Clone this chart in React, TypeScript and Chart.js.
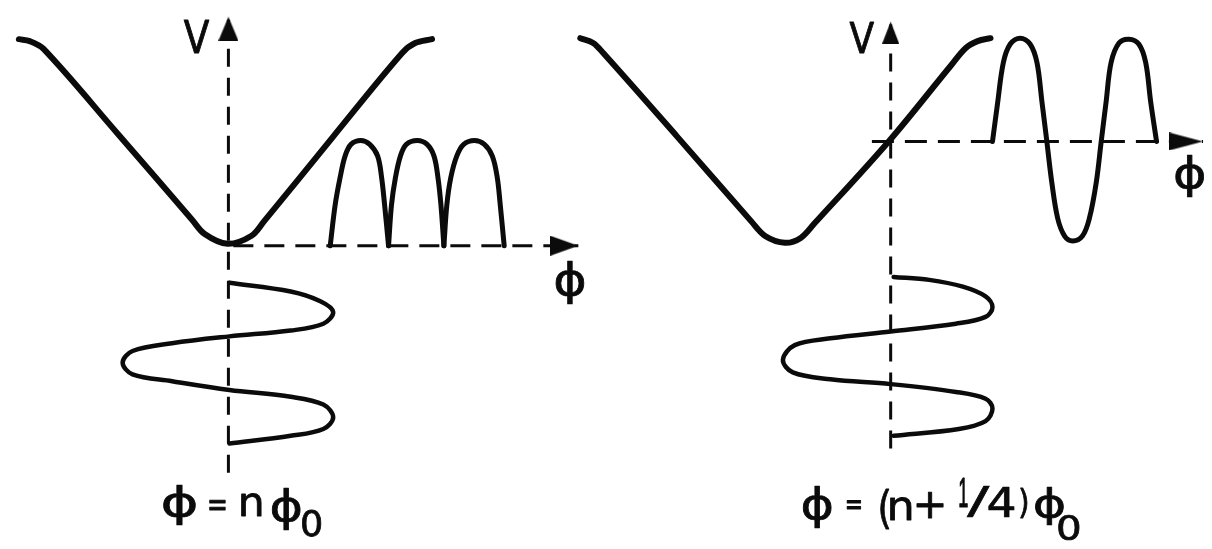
import { useEffect, useRef } from "react";
import { Chart, registerables } from "chart.js";

Chart.register(...registerables);

type Pt = { x: number; y: number };
// glyph with its centre (x, y) and the box (w, h) it is lettered into
type Glyph = { text: string; x: number; y: number; w: number; h: number; face?: string };

const W = 1212;
const H = 549;
const INK = "#0b0b0b";

// ---- Left panel: flux held at an integer number of flux quanta ----

// V–Φ characteristic
const leftVCurve: Pt[] = [
  { x: 12, y: 33 }, { x: 23, y: 35 }, { x: 37, y: 43 }, { x: 112, y: 130 },
  { x: 187, y: 218 }, { x: 200, y: 233 }, { x: 223, y: 243 }, { x: 247, y: 235 },
  { x: 260, y: 220 }, { x: 330, y: 133 }, { x: 400, y: 47 }, { x: 413, y: 37 },
  { x: 430, y: 33 },
];

// rectified output: three arches resting on the Φ axis
const leftArch1: Pt[] = [
  { x: 327, y: 245 }, { x: 332, y: 203 }, { x: 337, y: 175 }, { x: 342, y: 153 },
  { x: 348, y: 141 }, { x: 358, y: 137 }, { x: 367, y: 141 }, { x: 375, y: 153 },
  { x: 379, y: 175 }, { x: 382, y: 203 }, { x: 386, y: 245 },
];
const leftArch2: Pt[] = [
  { x: 386, y: 245 }, { x: 389, y: 203 }, { x: 393, y: 175 }, { x: 398, y: 153 },
  { x: 404, y: 141 }, { x: 415, y: 137 }, { x: 425, y: 141 }, { x: 432, y: 153 },
  { x: 436, y: 175 }, { x: 439, y: 203 }, { x: 442, y: 245 },
];
const leftArch3: Pt[] = [
  { x: 442, y: 245 }, { x: 445, y: 203 }, { x: 449, y: 175 }, { x: 455, y: 153 },
  { x: 462, y: 141 }, { x: 473, y: 137 }, { x: 483, y: 141 }, { x: 491, y: 153 },
  { x: 496, y: 175 }, { x: 499, y: 203 }, { x: 503, y: 245 },
];

// applied flux modulation, drawn downwards along the V axis
const leftFluxWave: Pt[] = [
  { x: 225, y: 283 }, { x: 287, y: 292 }, { x: 317, y: 302 }, { x: 330, y: 313 },
  { x: 320, y: 325 }, { x: 287, y: 332 }, { x: 225, y: 338 }, { x: 167, y: 345 },
  { x: 127, y: 353 }, { x: 117, y: 365 }, { x: 127, y: 377 }, { x: 167, y: 384 },
  { x: 225, y: 393 }, { x: 287, y: 400 }, { x: 320, y: 408 }, { x: 330, y: 421 },
  { x: 320, y: 433 }, { x: 287, y: 440 }, { x: 225, y: 448 },
];

// axes: start point, arrow tip
const leftVAxis: Pt[] = [{ x: 224, y: 478 }, { x: 224, y: 10 }];
const leftPhiAxis: Pt[] = [{ x: 229, y: 245 }, { x: 578, y: 245 }];

// ---- Right panel: flux offset by a quarter quantum ----

const rightVCurve: Pt[] = [
  { x: 580, y: 32 }, { x: 593, y: 37 }, { x: 603, y: 47 }, { x: 678, y: 133 },
  { x: 753, y: 220 }, { x: 767, y: 235 }, { x: 787, y: 242 }, { x: 803, y: 237 },
  { x: 817, y: 222 }, { x: 892, y: 138 }, { x: 955, y: 60 }, { x: 970, y: 42 },
  { x: 982, y: 35 }, { x: 995, y: 32 },
];

// output at the modulation frequency
const rightOutput: Pt[] = [
  { x: 997, y: 138 }, { x: 1002, y: 100 }, { x: 1008, y: 57 }, { x: 1015, y: 38 },
  { x: 1025, y: 32 }, { x: 1035, y: 38 }, { x: 1042, y: 57 }, { x: 1047, y: 97 },
  { x: 1052, y: 138 }, { x: 1057, y: 180 }, { x: 1063, y: 217 }, { x: 1070, y: 235 },
  { x: 1078, y: 240 }, { x: 1088, y: 235 }, { x: 1095, y: 217 }, { x: 1102, y: 180 },
  { x: 1107, y: 138 }, { x: 1112, y: 97 }, { x: 1117, y: 57 }, { x: 1125, y: 37 },
  { x: 1135, y: 33 }, { x: 1145, y: 38 }, { x: 1152, y: 57 }, { x: 1157, y: 97 },
  { x: 1163, y: 138 },
];

const rightFluxWave: Pt[] = [
  { x: 897, y: 277 }, { x: 933, y: 280 }, { x: 967, y: 287 }, { x: 990, y: 297 },
  { x: 997, y: 308 }, { x: 990, y: 318 }, { x: 960, y: 325 }, { x: 894, y: 333 },
  { x: 833, y: 340 }, { x: 797, y: 347 }, { x: 785, y: 362 }, { x: 795, y: 375 },
  { x: 833, y: 382 }, { x: 894, y: 387 }, { x: 960, y: 395 }, { x: 990, y: 402 },
  { x: 997, y: 412 }, { x: 990, y: 425 }, { x: 963, y: 433 }, { x: 897, y: 440 },
];

const rightVAxis: Pt[] = [{ x: 894, y: 453 }, { x: 894, y: 15 }];
const rightPhiAxis: Pt[] = [{ x: 875, y: 138 }, { x: 1210, y: 138 }];

// ---- Lettering ----

const axisLabels: Glyph[] = [
  { text: "V", x: 192, y: 30, w: 27, h: 34 },
  { text: "ϕ", x: 570, y: 283, w: 30, h: 45 },
  { text: "V", x: 865, y: 31, w: 26, h: 33 },
  { text: "ϕ", x: 1197, y: 174, w: 30, h: 43 },
];

// ϕ = nϕ₀
const leftCaption: Glyph[] = [
  { text: "ϕ", x: 175, y: 511, w: 34, h: 42 },
  { text: "=", x: 213, y: 511, w: 17, h: 11 },
  { text: "n", x: 247, y: 510, w: 21, h: 24 },
  { text: "ϕ", x: 283, y: 515, w: 30, h: 44 },
  { text: "0", x: 308, y: 529, w: 20, h: 29 },
];

// ϕ = (n+1/4)ϕ₀
const rightCaption: Glyph[] = [
  { text: "ϕ", x: 820, y: 513, w: 30, h: 43 },
  { text: "=", x: 857, y: 510, w: 15, h: 10 },
  { text: "(", x: 888, y: 515, w: 10, h: 42 },
  { text: "n", x: 904, y: 515, w: 22, h: 24 },
  { text: "+", x: 934, y: 511, w: 28, h: 27 },
  { text: "1", x: 968, y: 498, w: 9, h: 31, face: "Liberation Sans" },
  { text: "/", x: 983, y: 507, w: 24, h: 33 },
  { text: "4", x: 1006, y: 508, w: 28, h: 31 },
  { text: ")", x: 1029, y: 509, w: 8, h: 32 },
  { text: "ϕ", x: 1055, y: 512, w: 30, h: 40 },
  { text: "0", x: 1074, y: 534, w: 22, h: 28 },
];

const allGlyphs: Glyph[] = [...axisLabels, ...leftCaption, ...rightCaption];

// Arrowhead marker: tip sits at the canvas centre, body trails downward.
function makeArrow(length: number, width: number): HTMLCanvasElement {
  const c = document.createElement("canvas");
  c.width = width;
  c.height = length * 2;
  const g = c.getContext("2d")!;
  g.fillStyle = INK;
  g.beginPath();
  g.moveTo(width / 2, length);
  g.lineTo(width, length * 2);
  g.lineTo(0, length * 2);
  g.closePath();
  g.fill();
  return c;
}

const PEN = 0.8; // extra stroke round each glyph, in pixels

const letteringPlugin = {
  id: "lettering",
  afterDatasetsDraw(chart: Chart) {
    const { ctx } = chart;
    const sx = chart.scales.x;
    const sy = chart.scales.y;
    ctx.save();
    ctx.fillStyle = INK;
    ctx.strokeStyle = INK;
    ctx.lineJoin = "round";
    ctx.textAlign = "left";
    ctx.textBaseline = "alphabetic";
    for (const g of allGlyphs) {
      ctx.font = `40px "${g.face ?? "DejaVu Sans"}", sans-serif`;
      const m = ctx.measureText(g.text);
      const bw = m.actualBoundingBoxRight + m.actualBoundingBoxLeft;
      const bh = m.actualBoundingBoxAscent + m.actualBoundingBoxDescent;
      const kx = Math.max(g.w - PEN, 1) / bw;
      const ky = Math.max(g.h - PEN, 1) / bh;
      const cx = sx.getPixelForValue(g.x);
      const cy = sy.getPixelForValue(g.y);
      ctx.save();
      ctx.translate(cx, cy);
      ctx.scale(kx, ky);
      const ox = -(m.actualBoundingBoxRight - m.actualBoundingBoxLeft) / 2;
      const oy = (m.actualBoundingBoxAscent - m.actualBoundingBoxDescent) / 2;
      ctx.fillText(g.text, ox, oy);
      ctx.lineWidth = PEN / ((kx + ky) / 2);
      ctx.strokeText(g.text, ox, oy);
      ctx.restore();
    }
    ctx.restore();
  },
};

function curve(data: Pt[], width: number, tension = 0.35) {
  return {
    data,
    borderColor: INK,
    borderWidth: width,
    tension,
    pointRadius: 0,
    borderCapStyle: "round" as const,
    borderJoinStyle: "round" as const,
    fill: false,
    clip: false as const,
  };
}

function axis(data: Pt[], dash: number[], arrow: HTMLCanvasElement, rotation: number) {
  return {
    data,
    borderColor: INK,
    borderWidth: 3,
    borderDash: dash,
    tension: 0,
    pointRadius: [0, 1],
    pointStyle: arrow,
    pointRotation: rotation,
    fill: false,
    clip: false as const,
  };
}

export default function App() {
  const ref = useRef<HTMLCanvasElement>(null);

  useEffect(() => {
    const canvas = ref.current;
    if (!canvas) return;

    const chart = new Chart(canvas, {
      type: "line",
      data: {
        datasets: [
          axis(leftVAxis, [18, 11], makeArrow(24, 20), 0),
          axis(leftPhiAxis, [20, 11], makeArrow(28, 20), 90),
          axis(rightVAxis, [18, 11], makeArrow(22, 17), 0),
          axis(rightPhiAxis, [22, 11], makeArrow(34, 18), 90),
          curve(leftVCurve, 6),
          curve(leftArch1, 5),
          curve(leftArch2, 5),
          curve(leftArch3, 5),
          curve(leftFluxWave, 4.5),
          curve(rightVCurve, 6),
          curve(rightOutput, 5),
          curve(rightFluxWave, 4.5),
        ] as any,
      },
      options: {
        animation: false,
        responsive: false,
        events: [],
        layout: { padding: 0 },
        plugins: {
          legend: { display: false },
          tooltip: { enabled: false },
        },
        scales: {
          x: { type: "linear", min: 0, max: W, display: false },
          y: { type: "linear", min: 0, max: H, reverse: true, display: false },
        },
      },
      plugins: [letteringPlugin],
    });

    return () => chart.destroy();
  }, []);

  return (
    <div
      style={{
        position: "fixed",
        left: 0,
        top: 0,
        width: W,
        height: H,
        background: "#fff",
      }}
    >
      <canvas ref={ref} width={W} height={H} style={{ display: "block", width: W, height: H }} />
    </div>
  );
}
